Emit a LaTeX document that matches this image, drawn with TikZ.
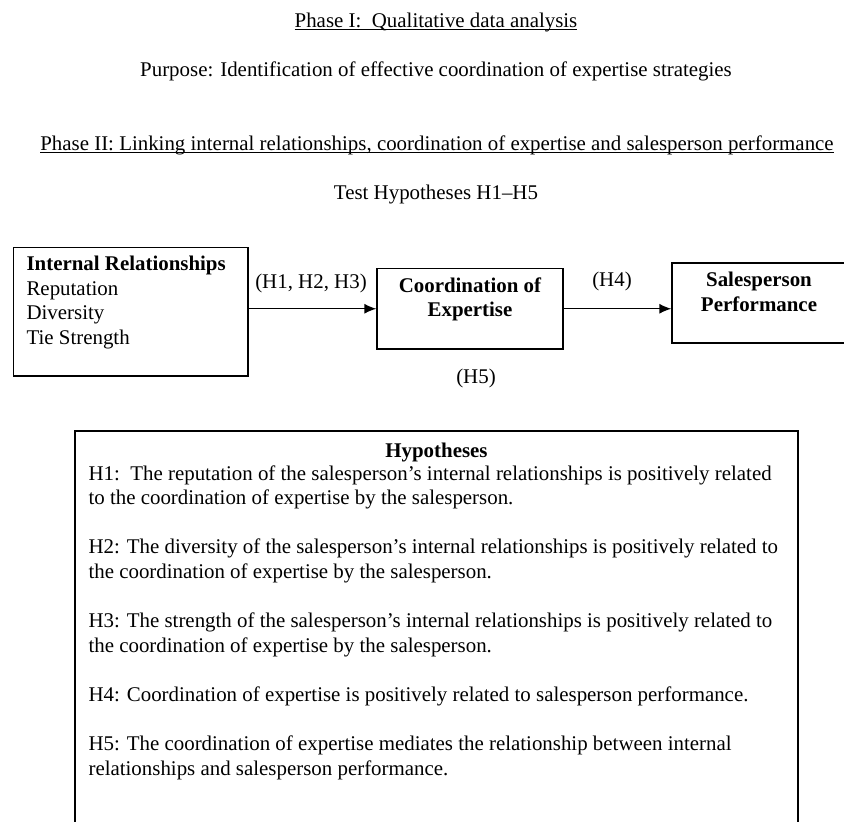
\documentclass[tikz,border=0pt]{standalone}
\usepackage{fontspec}
\setmainfont{Liberation Serif}
\newcommand{\uln}[1]{\setbox0\hbox{#1}\rlap{\rule[-2.8pt]{\wd0}{1.1pt}}\box0}
\usetikzlibrary{arrows.meta,positioning}

\begin{document}
\begin{tikzpicture}[x=1pt,y=-1pt,
		every node/.style={font=\fontsize{20.9}{24.6}\selectfont, inner sep=0pt},
		blk/.style={draw, line width=1.3pt},
		txt/.style={align=center, execute at begin node=\strut},
		arr/.style={line width=1.3pt, -{Latex[length=12pt,width=10pt]}}]
		\useasboundingbox (0,0) rectangle (844,822);
		
		% phases
		\node (phone) [anchor=base] at (436,27.5) {\uln{Phase I:\ \ Qualitative data analysis}};
		\node (purpose) [anchor=base] at (436,76.7) {Purpose: Identification of effective coordination of expertise strategies};
		\node (phtwo) [anchor=base] at (437,150.5) {\uln{Phase II: Linking internal relationships, coordination of expertise and salesperson performance}};
		\node (test) [anchor=base] at (436,199.7) {Test Hypotheses H1--H5};
		
		% model
		\node (ir) [blk, minimum width=234.5, minimum height=128.4] at (130.75,311.8) {};
		\node (coord) [blk, minimum width=186, minimum height=80.5] at (470,308.75) {};
		\node (sales) [blk, minimum width=174, minimum height=80] at (759,303) {};
		
		\node (irtext) [txt, align=left, anchor=north west] at ([xshift=13.5pt,yshift=-9pt]ir.north west) {\textbf{Internal Relationships}\\Reputation\\Diversity\\Tie Strength};
		\node (coordtext) [txt, anchor=north] at ([yshift=-9.3pt]coord.north) {\textbf{Coordination of}\\\textbf{Expertise}};
		\node (salestext) [txt, anchor=north] at ([yshift=-9.8pt]sales.north) {\textbf{Salesperson}\\\textbf{Performance}};
		
		\draw[arr] (coord.west -| ir.east) -- (coord.west);
		\draw[arr] (coord.east) -- (coord.east -| sales.west);
		
		\node (hot) [anchor=base] at (311,288) {(H1, H2, H3)};
		\node (hfour) [anchor=base] at (612,286) {(H4)};
		\node (hfive) [anchor=base] at (476,383) {(H5)};
		
		% hypotheses
		\node (hyp) [blk, minimum width=723, minimum height=399] at (436.5,630.5) {};
		\node (hyptitle) [txt, anchor=north] at ([yshift=-9.8pt]hyp.north) {\textbf{Hypotheses}};
		\node (hyptext) [txt, align=left, anchor=north west] at ([xshift=14pt]hyptitle.south -| hyp.west) {H1:\ \ The reputation of the salesperson's internal relationships is positively related\\to the coordination of expertise by the salesperson.\\[24.6pt]
		H2: The diversity of the salesperson's internal relationships is positively related to\\the coordination of expertise by the salesperson.\\[24.6pt]
		H3: The strength of the salesperson's internal relationships is positively related to\\the coordination of expertise by the salesperson.\\[24.6pt]
		H4: Coordination of expertise is positively related to salesperson performance.\\[24.6pt]
		H5: The coordination of expertise mediates the relationship between internal\\relationships and salesperson performance.};
		\end{tikzpicture}
\end{document}
